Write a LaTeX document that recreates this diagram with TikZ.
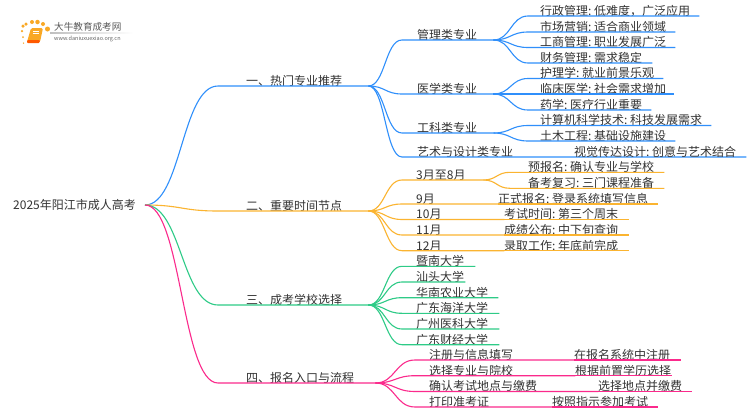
\documentclass[tikz,border=0pt]{standalone}
\usepackage{fontspec}
\setmainfont{Noto Sans CJK SC}
\usetikzlibrary{calc}
\definecolor{cblue}{HTML}{2F8FFB}
\definecolor{corange}{HTML}{FBB430}
\definecolor{cgreen}{HTML}{2ECB87}
\definecolor{cpink}{HTML}{FB2A8C}
\definecolor{ctext}{HTML}{333333}
\definecolor{logoor}{HTML}{F9A825}
\tikzset{
  lab/.style={anchor=south west,inner sep=0pt,text height=10pt,text depth=.5pt,align=left,font=\fontsize{12}{14}\selectfont,text=ctext},
  wire/.style={line width=1.1pt},
  dotc/.style={circle,fill=logoor,draw=none,inner sep=0pt,minimum size=#1},
}
\newcommand\cl{:\hspace{2.7pt}}
% name, x0, y, x1, pad, text
\newcommand\lf[6]{\pgfmathsetmacro\lfwidth{#4-(#2)}\node[lab,text width=\lfwidth pt] (#1) at (#2,#3) {\hspace*{#5pt}#6};}
% colour, from, to node: curve to the node's left foot then along its foot
\newcommand\cvv[3]{\draw[wire,#1] let \p1=(#2),\p2=(#3.south west) in (#2) .. controls ({.5*\x1+.5*\x2},\y1) and ({.5*\x1+.5*\x2},\y2) .. (#3.south west) -- (#3.south east);}
\newcommand\ext[3]{\draw[wire,#1] (#2.south east) -- (#3.south east);}
\begin{document}
\begin{tikzpicture}[x=1pt,y=-1pt]
\useasboundingbox (0,0) rectangle (750,410);
\fill[white] (0,0) rectangle (750,410);
% logo
\node[dotc=3.5pt] (d1x) at (23,26) {};
\node[dotc=3.5pt] (d2x) at (26,24) {};
\node[dotc=4pt] (d3x) at (32,22) {};
\node[dotc=4.5pt] (d4x) at (37.5,22) {};
\node[dotc=4pt] (d5x) at (43,24) {};
\node[dotc=5pt] (d6x) at (47.5,29) {};
\node[dotc=2.5pt] (d7x) at (22,31) {};
\node[dotc=2pt] (d8x) at (23,37) {};
\node[dotc=1.5pt] (d9x) at (23.5,43) {};
\fill[logoor,rounded corners=1.5pt] (31,28) -- (43,28) -- (40,42) -- (27,42) -- cycle;
\fill[orange!70!red,rounded corners=1pt] (27,40) -- (40,40) -- (39.5,43) -- (27,43) -- cycle;
\draw[white,line width=.6pt] (33,31) -- (39,31) (32.5,33.5) -- (38.5,33.5);
\node[inner sep=0pt,anchor=west,font=\fontsize{9.6}{12}\selectfont,text=black!65] (logo) at (54,27) {大牛教育成考网};
\shade[left color=black!25,right color=white] (50,32.8) rectangle (133,33.4);
\node[inner sep=0pt,anchor=west,font=\fontsize{5.5}{6}\selectfont,text=black!60] (url) at (54,38.5) {www.daniuxuexiao.org.cn};
% root
\node[inner sep=0pt,anchor=west,font=\fontsize{12}{14}\selectfont,text=ctext] (root) at (13,205) {2025年阳江市成人高考};
\coordinate (rt) at (145,205);
% level 1
\lf{a}{218}{86}{368}{28}{一、热门专业推荐}
\lf{b}{218}{211}{368}{28}{二、重要时间节点}
\lf{c}{218}{305}{368}{28}{三、成考学校选择}
\lf{d}{218}{383}{375}{28}{四、报名入口与流程}
\cvv{cblue}{rt}{a}
\cvv{corange}{rt}{b}
\cvv{cgreen}{rt}{c}
\cvv{cpink}{rt}{d}
\coordinate (af) at (a.south east);
\coordinate (bf) at (b.south east);
\coordinate (cf) at (c.south east);
\coordinate (df) at (d.south east);
% blue
\lf{a1}{402}{40}{493}{15}{管理类专业}
\lf{a2}{402}{94}{493}{15}{医学类专业}
\lf{a3}{402}{133}{493}{15}{工科类专业}
\lf{a4}{402}{157}{746}{15}{艺术与设计类专业}
\foreach \nd in {a1,a2,a3,a4}{\cvv{cblue}{af}{\nd}}
\coordinate (a1f) at (a1.south east);
\coordinate (a2f) at (a2.south east);
\coordinate (a3f) at (a3.south east);
\lf{a11}{528}{16}{699}{12}{行政管理\cl 低难度，广泛应用}
\lf{a12}{528}{32}{675}{12}{市场营销\cl 适合商业领域}
\lf{a13}{528}{47.5}{675}{12}{工商管理\cl 职业发展广泛}
\lf{a14}{528}{63}{652}{12}{财务管理\cl 需求稳定}
\foreach \nd in {a11,a12,a13,a14}{\cvv{cblue}{a1f}{\nd}}
\lf{a21}{528}{78.5}{663}{12}{护理学\cl 就业前景乐观}
\lf{a22}{528}{94}{674}{12}{临床医学\cl 社会需求增加}
\lf{a23}{528}{110}{651}{12}{药学\cl 医疗行业重要}
\foreach \nd in {a21,a22,a23}{\cvv{cblue}{a2f}{\nd}}
\lf{a31}{528}{125.5}{711}{12}{计算机科学技术\cl 科技发展需求}
\lf{a32}{528}{141}{675}{12}{土木工程\cl 基础设施建设}
\foreach \nd in {a31,a32}{\cvv{cblue}{a3f}{\nd}}
\node[lab] (a41) at (574,157) {视觉传达设计\cl 创意与艺术结合};
% orange
\lf{b1}{402}{180}{483}{14}{3月至8月}
\lf{b2}{402}{204}{498}{14}{9月}
\lf{b3}{402}{219.5}{504}{14}{10月}
\lf{b4}{402}{235}{504}{14}{11月}
\lf{b5}{402}{250.7}{504}{14}{12月}
\foreach \nd in {b1,b2,b3,b4,b5}{\cvv{corange}{bf}{\nd}}
\coordinate (b1f) at (b1.south east);
\lf{b11}{510}{172.3}{664}{18}{预报名\cl 确认专业与学校}
\lf{b12}{510}{188.3}{664}{18}{备考复习\cl 三门课程准备}
\foreach \nd in {b11,b12}{\cvv{corange}{b1f}{\nd}}
\lf{b21}{498}{204}{658}{0}{正式报名\cl 登录系统填写信息}
\lf{b31}{504}{219.5}{629}{0}{考试时间\cl 第三个周末}
\lf{b41}{504}{235}{629}{0}{成绩公布\cl 中下旬查询}
\lf{b51}{504}{250.7}{629}{0}{录取工作\cl 年底前完成}
\ext{corange}{b2}{b21}
\ext{corange}{b3}{b31}
\ext{corange}{b4}{b41}
\ext{corange}{b5}{b51}
% green
\lf{c1}{402}{266.3}{475}{14}{暨南大学}
\lf{c2}{402}{282}{465}{14}{汕头大学}
\lf{c3}{402}{297.7}{498}{14}{华南农业大学}
\lf{c4}{402}{313.3}{499}{14}{广东海洋大学}
\lf{c5}{402}{329}{499}{14}{广州医科大学}
\lf{c6}{402}{344.7}{499}{14}{广东财经大学}
\foreach \nd in {c1,c2,c3,c4,c5,c6}{\cvv{cgreen}{cf}{\nd}}
% pink
\lf{d1}{415}{360}{574}{14}{注册与信息填写}
\lf{d2}{415}{375.7}{575}{14}{选择专业与院校}
\lf{d3}{415}{391.5}{598}{14}{确认考试地点与缴费}
\lf{d4}{415}{407}{552}{14}{打印准考证}
\foreach \nd in {d1,d2,d3,d4}{\cvv{cpink}{df}{\nd}}
\lf{d11}{574}{360}{681}{0}{在报名系统中注册}
\lf{d21}{575}{375.7}{672}{0}{根据前置学历选择}
\lf{d31}{598}{391.5}{692}{0}{选择地点并缴费}
\lf{d41}{552}{407}{658}{0}{按照指示参加考试}
\ext{cpink}{d1}{d11}
\ext{cpink}{d2}{d21}
\ext{cpink}{d3}{d31}
\ext{cpink}{d4}{d41}
\end{tikzpicture}
\end{document}
